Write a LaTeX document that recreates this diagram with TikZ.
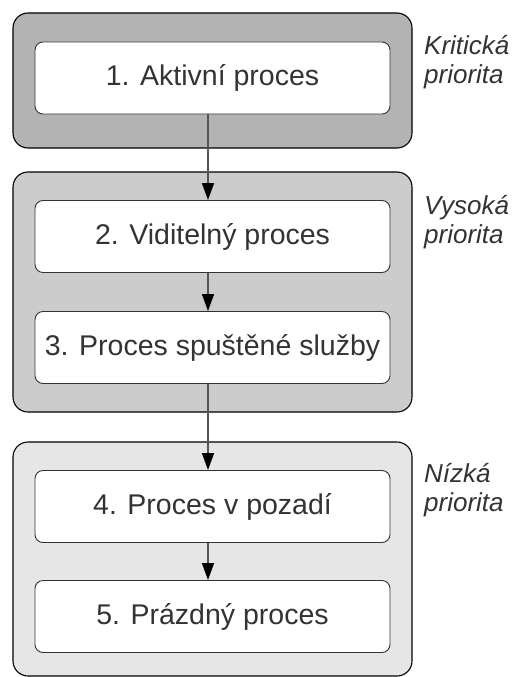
\documentclass[tikz,border=0pt]{standalone}
\usepackage{fontspec}
\setmainfont{Liberation Sans}
\usepackage{tikz}
\usepackage{xcolor}
\usetikzlibrary{arrows.meta}

\definecolor{critgray}{HTML}{B3B3B3}
\definecolor{highgray}{HTML}{CCCCCC}
\definecolor{lowgray}{HTML}{E6E6E6}
\definecolor{textgray}{HTML}{333333}
\definecolor{linegray}{HTML}{555555}

\begin{document}
\begin{tikzpicture}[x=1pt, y=-1pt,
    group/.style={draw=black, line width=1.1pt, rounded corners=15pt, minimum width=399pt, inner sep=0pt},
    proc/.style={draw=textgray, line width=0.9pt, fill=white, rounded corners=8pt, minimum width=355pt, minimum height=72pt, inner sep=0pt, text=textgray, font=\fontsize{28.5}{34}\selectfont},
    prio/.style={anchor=base west, align=left, inner sep=0pt, text=textgray, font=\fontsize{26}{29}\selectfont\itshape},
    every edge/.style={draw}]
    \useasboundingbox (0,0) rectangle (515,677);

    \node[group, fill=critgray, minimum height=135pt] (g1) at (212.5,80.5) {};
    \node[group, fill=highgray, minimum height=240pt] (g2) at (212.5,292) {};
    \node[group, fill=lowgray, minimum height=234pt] (g3) at (212.5,559) {};

    \node[proc] (p1) at (212.5,78) {1. Aktivní proces};
    \node[proc] (p2) at (212.5,236.5) {2. Viditelný proces};
    \node[proc] (p3) at (212.5,347.5) {3. Proces spuštěné služby};
    \node[proc] (p4) at (212.5,506.5) {4. Proces v pozadí};
    \node[proc] (p5) at (212.5,616.5) {5. Prázdný proces};

    % base anchor sits on the second line
    \node[prio] (l1) at (424,84) {Kritická\\priorita};
    \node[prio] (l2) at (424,243) {Vysoká\\priorita};
    \node[prio] (l3) at (424,511) {Nízká\\priorita};

    \draw[draw=linegray, line width=1.4pt, -{Triangle[width=12pt, length=17pt, color=black]}] ([xshift=-4.5pt]p1.south) -- ([xshift=-4.5pt]p2.north);
    \draw[draw=linegray, line width=1.4pt, -{Triangle[width=12pt, length=17pt, color=black]}] ([xshift=-4.5pt]p2.south) -- ([xshift=-4.5pt]p3.north);
    \draw[draw=linegray, line width=1.4pt, -{Triangle[width=12pt, length=17pt, color=black]}] ([xshift=-4.5pt]p3.south) -- ([xshift=-4.5pt]p4.north);
    \draw[draw=linegray, line width=1.4pt, -{Triangle[width=12pt, length=17pt, color=black]}] ([xshift=-4.5pt]p4.south) -- ([xshift=-4.5pt]p5.north);

\end{tikzpicture}
\end{document}
